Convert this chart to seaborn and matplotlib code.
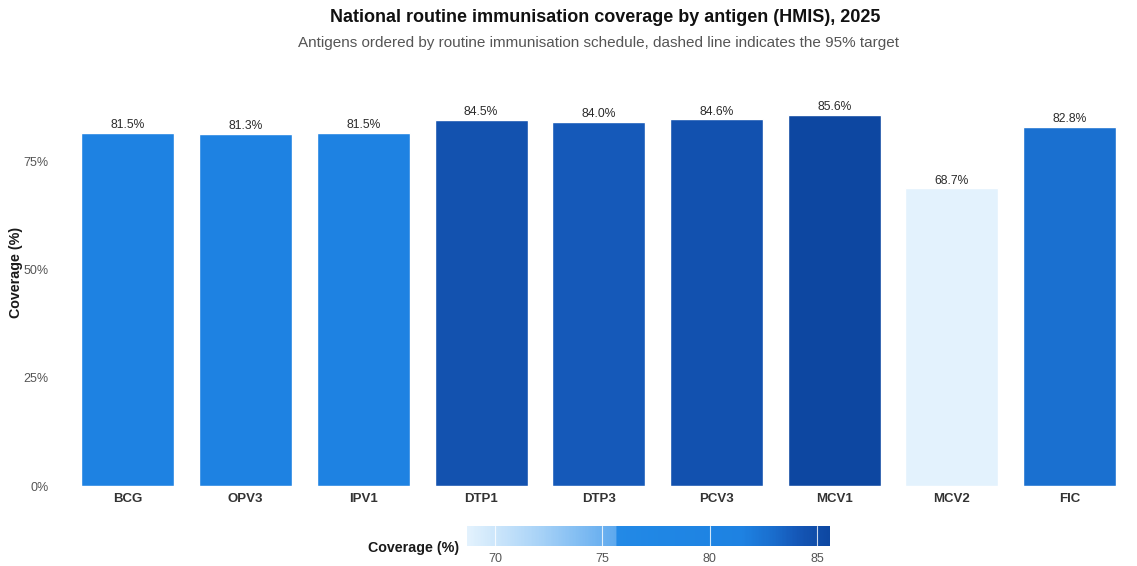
import matplotlib
matplotlib.use("Agg")
import matplotlib.pyplot as plt
import matplotlib.colors as mcolors
import matplotlib.cm as cm
import matplotlib.ticker as mticker
import numpy as np
import pandas as pd
import seaborn as sns

# Routine immunisation coverage by antigen, in schedule order
antigens = ["BCG", "OPV3", "IPV1", "DTP1", "DTP3", "PCV3", "MCV1", "MCV2", "FIC"]
coverage = [81.5, 81.3, 81.5, 84.5, 84.0, 84.6, 85.6, 68.7, 82.8]
y_ticks = [0, 25, 50, 75]
cbar_ticks = [70, 75, 80, 85]

df = pd.DataFrame({"antigen": antigens, "coverage": coverage})

sns.set_theme(style="white")
plt.rcParams["font.family"] = ["Liberation Sans", "DejaVu Sans"]

# Blue fill scale running from the lowest to the highest coverage
vmin, vmax = min(coverage), max(coverage)
stops = [
    (68.7, "#e3f2fd"),
    (72.0, "#a9d3f7"),
    (75.6, "#5ea9ee"),
    (75.7, "#2389e6"),
    (78.0, "#1f86e4"),
    (81.5, "#1e82e2"),
    (82.8, "#1a70d0"),
    (84.0, "#1559b9"),
    (84.5, "#1352b0"),
    (85.6, "#0d47a1"),
]
cmap = mcolors.LinearSegmentedColormap.from_list(
    "coverage_blues",
    [((v - vmin) / (vmax - vmin), c) for v, c in stops],
)
norm = mcolors.Normalize(vmin=vmin, vmax=vmax)
palette = {a: cmap(norm(v)) for a, v in zip(antigens, coverage)}

fig = plt.figure(figsize=(11.37, 5.66), dpi=100)
ax = fig.add_axes([0.0501, 0.1413, 0.9499, 0.735])

sns.barplot(
    data=df, x="antigen", y="coverage", hue="antigen", palette=palette,
    order=antigens, width=0.79, saturation=1, legend=False, ax=ax,
)

for i, v in enumerate(coverage):
    ax.text(i, v + 0.4, f"{v:.1f}%", ha="center", va="bottom",
            fontsize=8.7, color="#2b2b2b")

ax.set_xlim(-0.603, 8.573)
ax.set_ylim(0, 96)
ax.set_yticks(y_ticks)
ax.yaxis.set_major_formatter(mticker.FuncFormatter(lambda v, p: f"{v:.0f}%"))
ax.tick_params(axis="y", labelsize=9, labelcolor="#555555", length=0, pad=6)
ax.tick_params(axis="x", labelsize=9.5, length=0, pad=5)
for lab in ax.get_xticklabels():
    lab.set_fontweight("bold")
    lab.set_color("#333333")
ax.set_xlabel("")
ax.set_ylabel("Coverage (%)", fontsize=10.3, fontweight="bold", color="#1a1a1a")
ax.yaxis.set_label_coords(-0.031, 0.514)
sns.despine(ax=ax, left=True, bottom=True)
ax.grid(False)

# Titles
fig.text(0.532, 0.969, "National routine immunisation coverage by antigen (HMIS), 2025",
         ha="center", va="center", fontsize=13, fontweight="bold", color="#111111")
fig.text(0.526, 0.924,
         "Antigens ordered by routine immunisation schedule, dashed line indicates the 95% target",
         ha="center", va="center", fontsize=11, color="#555555")

# Horizontal colour bar legend
cax = fig.add_axes([0.4107, 0.0353, 0.3193, 0.0353])
cb = fig.colorbar(cm.ScalarMappable(norm=norm, cmap=cmap), cax=cax,
                  orientation="horizontal", ticks=cbar_ticks)
cb.outline.set_visible(False)
cax.tick_params(axis="x", direction="in", length=0, colors="white",
                labelcolor="#555555", labelsize=9, pad=5)
for t in cbar_ticks:
    cax.axvline(t, ymin=0, ymax=1, color="white", lw=0.8, alpha=0.8)
fig.text(0.3635, 0.032, "Coverage (%)", ha="center", va="center",
         fontsize=10.3, fontweight="bold", color="#1a1a1a")

fig.savefig("out.png", dpi=100, facecolor="white")
